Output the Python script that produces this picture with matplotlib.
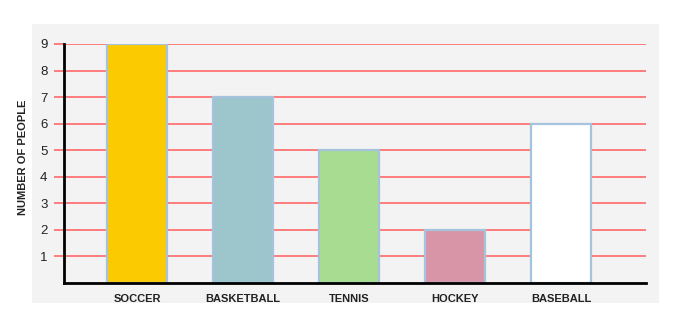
import numpy as np
import matplotlib
matplotlib.use('Agg')
from matplotlib import pyplot as plt
from matplotlib.patches import Rectangle

sports = ['SOCCER', 'BASKETBALL', 'TENNIS', 'HOCKEY', 'BASEBALL']
people = [9, 7, 5, 2, 6]
bar_colors = ['#fcca00', '#9dc5cc', '#a8dc90', '#d995a8', '#ffffff']
y_ticks = [1, 2, 3, 4, 5, 6, 7, 8, 9]

plt.rcParams['font.family'] = ['Liberation Sans', 'DejaVu Sans']

fig = plt.figure(figsize=(6.79, 3.29), dpi=100)
fig.patch.set_facecolor('white')

# grey panel behind the chart
fig.patches.append(Rectangle((0.047, 0.079), 0.924, 0.848, transform=fig.transFigure,
                             facecolor='#f3f3f3', edgecolor='none', zorder=-10))

ax = fig.add_axes([0.0943, 0.1398, 0.857, 0.7265])
ax.set_facecolor('none')

x = np.arange(len(sports))
ax.bar(x, people, width=0.57, color=bar_colors, edgecolor='#a6c3dd', linewidth=1.6, zorder=3)

ax.set_xlim(-0.69, 4.80)
ax.set_ylim(0, 9)
ax.set_yticks(y_ticks)
ax.set_yticklabels([str(v) for v in y_ticks], fontsize=9.5, color='#222222')
ax.yaxis.grid(True, color='#ff7373', linewidth=1.3, zorder=1)
ax.tick_params(axis='y', length=7, width=1.3, color='#ff7373', pad=5)
ax.set_xticks(x)
ax.set_xticklabels(sports, fontsize=8, fontweight='bold', color='#222222')
ax.tick_params(axis='x', length=0, pad=8)

for s in ['top', 'right']:
    ax.spines[s].set_visible(False)
for s in ['left', 'bottom']:
    ax.spines[s].set_linewidth(2)
    ax.spines[s].set_color('black')
    ax.spines[s].set_zorder(4)

fig.text(23 / 679, 1 - 157 / 329, 'NUMBER OF PEOPLE', rotation=90, fontsize=8,
         fontweight='bold', color='#222222', ha='center', va='center')

fig.savefig('out.png', dpi=100, facecolor='white')
